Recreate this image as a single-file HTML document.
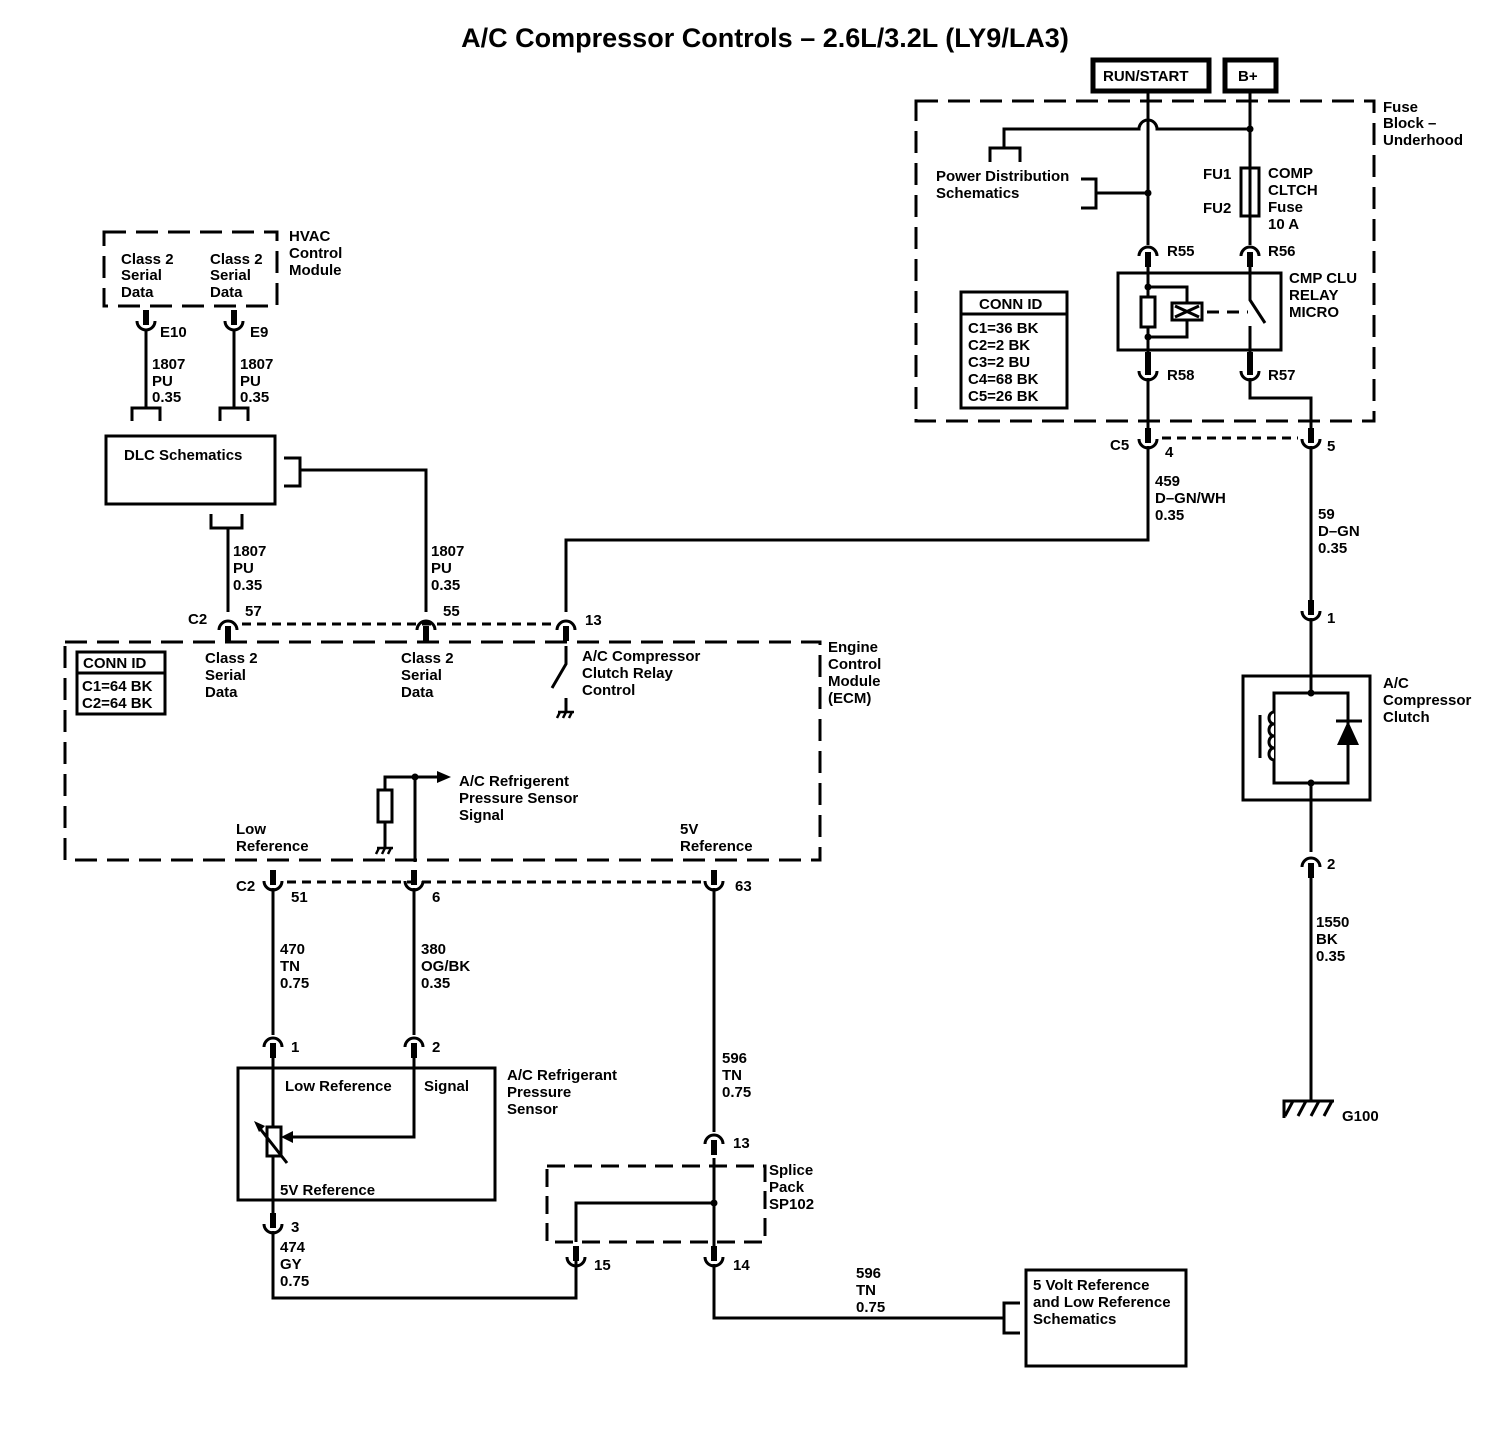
<!DOCTYPE html>
<html><head><meta charset="utf-8"><style>
html,body{margin:0;padding:0;background:#fff;}
svg{display:block}
text{font-family:"Liberation Sans",Arial,sans-serif;font-size:15px;font-weight:bold;fill:#000}
</style></head><body>
<svg width="1512" height="1456" viewBox="0 0 1512 1456" xmlns="http://www.w3.org/2000/svg">
<defs>
<g id="cu"><rect x="-3" y="-17" width="6" height="15" fill="#000"/><path d="M-9,-6 A9,9 0 0 0 9,-6" fill="none" stroke="#000" stroke-width="3"/></g>
<g id="cn"><rect x="-3" y="2" width="6" height="15" fill="#000"/><path d="M-9,6 A9,9 0 0 1 9,6" fill="none" stroke="#000" stroke-width="3"/></g>
</defs>
<rect width="1512" height="1456" fill="#fff"/>
<text x="765" y="47" text-anchor="middle" style="font-size:27px">A/C Compressor Controls – 2.6L/3.2L (LY9/LA3)</text>

<g fill="none" stroke="#000" stroke-width="3">
<rect x="1093" y="60" width="116" height="31" stroke-width="5"/>
<rect x="1225" y="60" width="51" height="31" stroke-width="5"/>
<rect x="916" y="101" width="458" height="320" stroke-dasharray="22,10"/>
<rect x="104" y="232" width="173" height="74" stroke-dasharray="22,10"/>
<rect x="65" y="642" width="755" height="218" stroke-dasharray="22,10"/>
<rect x="547" y="1166" width="218" height="76" stroke-dasharray="18,9"/>
<line x1="1162" y1="438" x2="1298" y2="438" stroke-dasharray="9,6"/>
<line x1="242" y1="624" x2="553" y2="624" stroke-dasharray="9,6"/>
<line x1="287" y1="882" x2="704" y2="882" stroke-dasharray="9,6"/>

<line x1="1148" y1="92" x2="1148" y2="245"/>
<line x1="1250" y1="92" x2="1250" y2="245"/>
<path d="M1004,148 V129 H1139 A9,9 0 0 1 1157,129 H1250"/>
<path d="M990,162 V148 H1020 V162"/>
<path d="M1081,179 H1096 V208 H1081 M1096,193 H1148"/>
<rect x="1241" y="168" width="18" height="48"/>
<rect x="1118" y="273" width="163" height="77"/>
<line x1="1148" y1="262" x2="1148" y2="365"/>
<rect x="1141" y="297" width="14" height="30" fill="#fff"/>
<path d="M1148,287 H1187 V303 M1187,320 V337 H1148"/>
<rect x="1172" y="303" width="30" height="17"/>
<path d="M1175,306 L1199,317 M1175,317 L1199,306"/>
<line x1="1207" y1="312" x2="1248" y2="312" stroke-dasharray="12,8"/>
<path d="M1250,262 V300 L1265,323"/>
<line x1="1250" y1="326" x2="1250" y2="365"/>
<path d="M1250,378 V398 H1311 V430"/>
<line x1="1148" y1="378" x2="1148" y2="430"/>
<path d="M1148,446 V540 H566 V612"/>
<line x1="1311" y1="446" x2="1311" y2="600"/>
<line x1="1311" y1="618" x2="1311" y2="693"/>
<rect x="1243" y="676" width="127" height="124"/>
<rect x="1274" y="693" width="74" height="90"/>
<line x1="1260" y1="715" x2="1260" y2="758"/>
<path d="M1274,712 a5,6 0 0 0 0,12 a5,6 0 0 0 0,12 a5,6 0 0 0 0,12 a5,6 0 0 0 0,12" fill="#fff"/>
<line x1="1336" y1="721" x2="1362" y2="721"/>
<line x1="1311" y1="783" x2="1311" y2="852"/>
<line x1="1311" y1="878" x2="1311" y2="1100"/>
<path d="M1284,1118 V1101 H1334"/>
<path d="M1293,1101 L1285,1116 M1306,1101 L1298,1116 M1319,1101 L1311,1116 M1332,1101 L1324,1116"/>

<line x1="146" y1="331" x2="146" y2="408"/>
<line x1="234" y1="331" x2="234" y2="408"/>
<path d="M132,421 V408 H160 V421"/>
<path d="M220,421 V408 H248 V421"/>
<rect x="106" y="436" width="169" height="68"/>
<path d="M284,458 H300 V486 H284 M300,470 H426 V612"/>
<path d="M211,514 V528 H242 V514 M228,528 V612"/>
<rect x="77" y="652" width="88" height="62"/>
<line x1="77" y1="673" x2="165" y2="673"/>
<rect x="961" y="292" width="106" height="116"/>
<line x1="961" y1="314" x2="1067" y2="314"/>
<path d="M566,646 V664 L552,688"/>
<line x1="566" y1="698" x2="566" y2="712"/>
<path d="M385,790 V777 H437"/>
<rect x="378" y="790" width="14" height="32" fill="#fff"/>
<line x1="385" y1="822" x2="385" y2="848"/>
<line x1="415" y1="777" x2="415" y2="862"/>
<line x1="273" y1="888" x2="273" y2="1035"/>
<line x1="414" y1="888" x2="414" y2="1035"/>
<line x1="714" y1="888" x2="714" y2="1132"/>
<rect x="238" y="1068" width="257" height="132"/>
<line x1="273" y1="1058" x2="273" y2="1215"/>
<path d="M414,1058 V1137 H290"/>
<rect x="267" y="1127" width="14" height="29" fill="#fff"/>
<line x1="287" y1="1163" x2="258" y2="1126"/>
<path d="M273,1231 V1298 H576 V1246"/>
<line x1="714" y1="1158" x2="714" y2="1246"/>
<path d="M714,1203 H576 V1242"/>
<path d="M714,1264 V1318 H1004"/>
<path d="M1020,1303 H1004 V1333 H1020"/>
<rect x="1026" y="1270" width="160" height="96"/>
</g>

<g fill="#000">
<circle cx="1250" cy="129" r="3.5"/><circle cx="1148" cy="193" r="3.5"/>
<circle cx="1148" cy="287" r="3.5"/><circle cx="1148" cy="337" r="3.5"/>
<circle cx="1311" cy="693" r="3.5"/><circle cx="1311" cy="783" r="3.5"/>
<circle cx="415" cy="777" r="3.5"/><circle cx="714" cy="1203" r="3.5"/>
<polygon points="1348,721 1337,745 1359,745"/>
<polygon points="437,771 451,777 437,783"/>
<polygon points="281,1137 293,1131 293,1143"/>
<polygon points="254,1121 265,1126 259,1132"/>
<rect x="1145" y="352" width="6" height="14"/>
<rect x="1247" y="352" width="6" height="14"/>
</g>
<g stroke="#000" stroke-width="2.5" fill="none">
<path d="M558,712 H574 M560,712 l-3,6 M566,712 l-3,6 M572,712 l-3,6"/>
<path d="M377,848 H393 M379,848 l-3,6 M385,848 l-3,6 M391,848 l-3,6"/>
</g>

<use href="#cu" x="146" y="327"/><use href="#cu" x="234" y="327"/>
<use href="#cn" x="228" y="624"/><use href="#cn" x="426" y="624"/><use href="#cn" x="566" y="624"/>
<use href="#cn" x="1148" y="250"/><use href="#cn" x="1250" y="250"/>
<use href="#cu" x="1148" y="377"/><use href="#cu" x="1250" y="377"/>
<use href="#cu" x="1148" y="445"/><use href="#cu" x="1311" y="445"/>
<use href="#cu" x="1311" y="617"/><use href="#cn" x="1311" y="861"/>
<use href="#cu" x="273" y="887"/><use href="#cu" x="414" y="887"/><use href="#cu" x="714" y="887"/>
<use href="#cn" x="273" y="1041"/><use href="#cn" x="414" y="1041"/>
<use href="#cu" x="273" y="1230"/>
<use href="#cn" x="714" y="1138"/>
<use href="#cu" x="576" y="1263"/><use href="#cu" x="714" y="1263"/>

<text x="1103" y="81">RUN/START</text>
<text x="1238" y="81">B+</text>
<text x="1383" y="112">Fuse</text><text x="1383" y="128">Block –</text><text x="1383" y="145">Underhood</text>
<text x="936" y="181">Power Distribution</text><text x="936" y="198">Schematics</text>
<text x="1203" y="179">FU1</text><text x="1203" y="213">FU2</text>
<text x="1268" y="178">COMP</text><text x="1268" y="195">CLTCH</text><text x="1268" y="212">Fuse</text><text x="1268" y="229">10 A</text>
<text x="1167" y="256">R55</text><text x="1268" y="256">R56</text>
<text x="1289" y="283">CMP CLU</text><text x="1289" y="300">RELAY</text><text x="1289" y="317">MICRO</text>
<text x="1167" y="380">R58</text><text x="1268" y="380">R57</text>
<text x="979" y="309">CONN ID</text>
<text x="968" y="333">C1=36 BK</text><text x="968" y="350">C2=2 BK</text><text x="968" y="367">C3=2 BU</text><text x="968" y="384">C4=68 BK</text><text x="968" y="401">C5=26 BK</text>
<text x="1110" y="450">C5</text><text x="1165" y="457">4</text><text x="1327" y="451">5</text>
<text x="1155" y="486">459</text><text x="1155" y="503">D–GN/WH</text><text x="1155" y="520">0.35</text>
<text x="1318" y="519">59</text><text x="1318" y="536">D–GN</text><text x="1318" y="553">0.35</text>
<text x="1327" y="623">1</text>
<text x="1383" y="688">A/C</text><text x="1383" y="705">Compressor</text><text x="1383" y="722">Clutch</text>
<text x="1327" y="869">2</text>
<text x="1316" y="927">1550</text><text x="1316" y="944">BK</text><text x="1316" y="961">0.35</text>
<text x="1342" y="1121">G100</text>

<text x="121" y="264">Class 2</text><text x="121" y="280">Serial</text><text x="121" y="297">Data</text>
<text x="210" y="264">Class 2</text><text x="210" y="280">Serial</text><text x="210" y="297">Data</text>
<text x="289" y="241">HVAC</text><text x="289" y="258">Control</text><text x="289" y="275">Module</text>
<text x="160" y="337">E10</text><text x="250" y="337">E9</text>
<text x="152" y="369">1807</text><text x="152" y="386">PU</text><text x="152" y="402">0.35</text>
<text x="240" y="369">1807</text><text x="240" y="386">PU</text><text x="240" y="402">0.35</text>
<text x="124" y="460">DLC Schematics</text>
<text x="233" y="556">1807</text><text x="233" y="573">PU</text><text x="233" y="590">0.35</text>
<text x="431" y="556">1807</text><text x="431" y="573">PU</text><text x="431" y="590">0.35</text>
<text x="188" y="624">C2</text><text x="245" y="616">57</text><text x="443" y="616">55</text><text x="585" y="625">13</text>
<text x="83" y="668">CONN ID</text><text x="82" y="691">C1=64 BK</text><text x="82" y="708">C2=64 BK</text>
<text x="205" y="663">Class 2</text><text x="205" y="680">Serial</text><text x="205" y="697">Data</text>
<text x="401" y="663">Class 2</text><text x="401" y="680">Serial</text><text x="401" y="697">Data</text>
<text x="582" y="661">A/C Compressor</text><text x="582" y="678">Clutch Relay</text><text x="582" y="695">Control</text>
<text x="828" y="652">Engine</text><text x="828" y="669">Control</text><text x="828" y="686">Module</text><text x="828" y="703">(ECM)</text>
<text x="459" y="786">A/C Refrigerent</text><text x="459" y="803">Pressure Sensor</text><text x="459" y="820">Signal</text>
<text x="236" y="834">Low</text><text x="236" y="851">Reference</text>
<text x="680" y="834">5V</text><text x="680" y="851">Reference</text>
<text x="236" y="891">C2</text><text x="291" y="902">51</text><text x="432" y="902">6</text><text x="735" y="891">63</text>
<text x="280" y="954">470</text><text x="280" y="971">TN</text><text x="280" y="988">0.75</text>
<text x="421" y="954">380</text><text x="421" y="971">OG/BK</text><text x="421" y="988">0.35</text>
<text x="291" y="1052">1</text><text x="432" y="1052">2</text>
<text x="285" y="1091">Low Reference</text><text x="424" y="1091">Signal</text>
<text x="507" y="1080">A/C Refrigerant</text><text x="507" y="1097">Pressure</text><text x="507" y="1114">Sensor</text>
<text x="280" y="1195">5V Reference</text>
<text x="291" y="1232">3</text>
<text x="280" y="1252">474</text><text x="280" y="1269">GY</text><text x="280" y="1286">0.75</text>
<text x="722" y="1063">596</text><text x="722" y="1080">TN</text><text x="722" y="1097">0.75</text>
<text x="733" y="1148">13</text>
<text x="769" y="1175">Splice</text><text x="769" y="1192">Pack</text><text x="769" y="1209">SP102</text>
<text x="594" y="1270">15</text><text x="733" y="1270">14</text>
<text x="856" y="1278">596</text><text x="856" y="1295">TN</text><text x="856" y="1312">0.75</text>
<text x="1033" y="1290">5 Volt Reference</text><text x="1033" y="1307">and Low Reference</text><text x="1033" y="1324">Schematics</text>
</svg>
</body></html>
